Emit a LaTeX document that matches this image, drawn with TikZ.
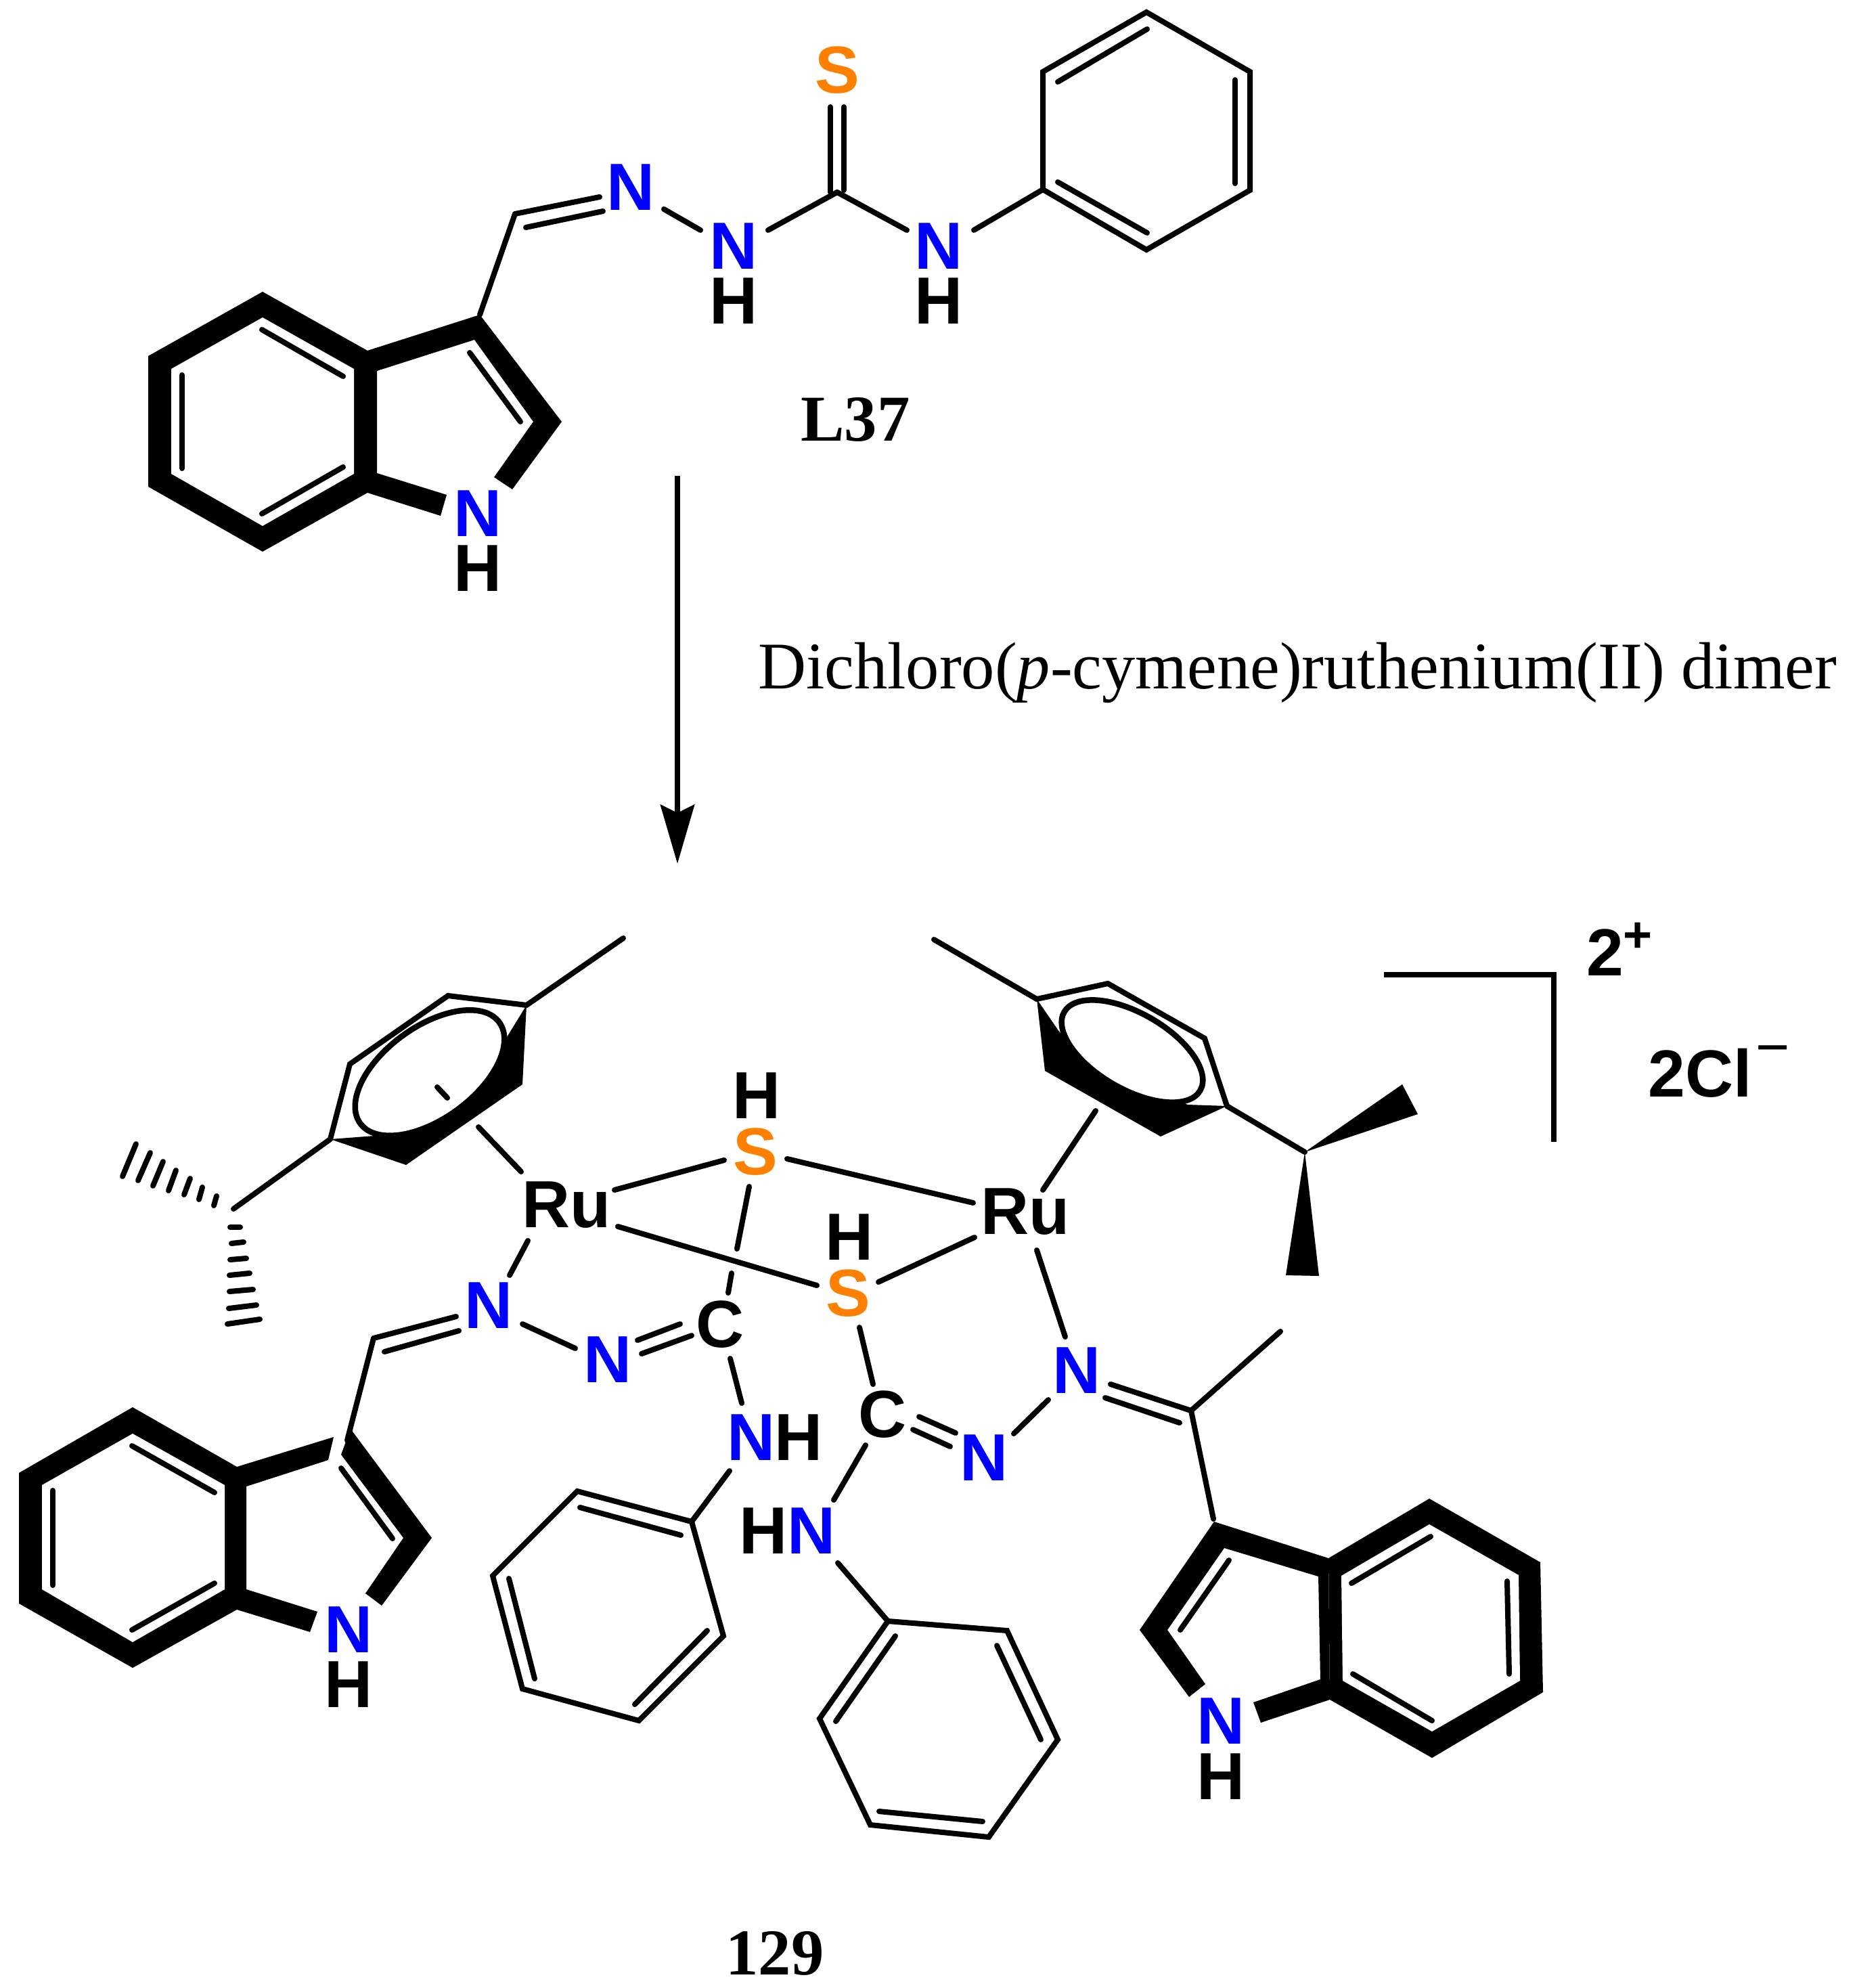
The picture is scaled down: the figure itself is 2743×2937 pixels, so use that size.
\documentclass[tikz,border=0pt]{standalone}
\usepackage{fontspec}
\setmainfont{Liberation Serif}
\setsansfont{Liberation Sans}
\usetikzlibrary{arrows.meta}
\definecolor{nblue}{RGB}{0,0,255}
\definecolor{sorange}{RGB}{255,128,0}
\tikzset{
  bond/.style={draw=black,line width=0.08cm,line cap=round,line join=miter},
  hashline/.style={draw=black,line width=0.08cm,line cap=round},
  atom/.style={inner sep=0pt,outer sep=0pt,font=\fontsize{28}{30}\selectfont\sffamily\bfseries},
  natom/.style={atom,text=nblue},
  satom/.style={atom,text=sorange},
  cmpd/.style={inner sep=0pt,anchor=base,font=\fontsize{27.5}{30}\selectfont\rmfamily\bfseries},
  arene/.style={draw=black,fill=white,line width=0.085cm}
}
\begin{document}
\begin{tikzpicture}[x=0.01cm,y=-0.01cm]
\useasboundingbox (0,0) rectangle (2743,2937);
% ---------- named vertices and bond ends ----------
\foreach \n/\px/\py in {
 tc3/709/465,tch/761/316,tna/886/291,tdb/777/336,tnb/891/312,tnn/981/309,tnh/1035/340,
 thc/1135/340,tcs/1237/284,thd/1340/340,the/1439/340,
 pa/1541/280,pb/1541/106,pc/1694/18,pd/1847/106,pe/1847/281,pf/1694/369,
 pa1/1563/121,pa2/1695/43,pb1/1825/118,pb2/1825/271,pc1/1563/269,pc2/1695/344,
 sa1/1227/158,sa2/1227/284,sb1/1247/158,sb2/1247/281,
 ti1/387/487,ti2/507/556,ti3/269/554,ti4/269/692,ti5/387/759,ti6/507/690,ti7/694/521,ti8/769/623,
 ara/1001/703,arb/1001/1276,
 lme/921/1386,lca/778/1485,lcb/662/1471,lcc/517/1572,lcd/488/1683,
 lst1/646/1606,lst2/661/1622,lrc1/707/1665,lrc2/770/1731,lipr/345/1786,
 r1s1/908/1758,r1s2/1070/1714,s1r2a/1163/1712,s1r2b/1438/1777,
 s1c1/1107/1753,s1c2/1089/1845,s1c3/1081/1881,s1c4/1076/1910,
 r1s3/913/1812,r1s4/1207/1899,s2r1/1298/1894,s2r2/1440/1828,
 r1n1/780/1833,r1n2/753/1884,
 lna/674/1945,lch/552/1977,lnb/678/1966,lchb/568/1997,lnn1/772/1956,lnn2/850/1992,
 lnc1/942/1980,lnc2/1005/1956,lnc3/948/2000,lnc4/1022/1973,lchi/513/2128,
 lch1/1079/2007,lch2/1096/2073,lnp/1078/2173,
 qa/1022/2248,qb/853/2203,qc/728/2328,qd/772/2495,qe/944/2542,qf/1069/2417,
 qa1/857/2227,qa2/1006/2268,qb1/752/2332,qb2/790/2480,qc1/938/2518,qc2/1045/2409,
 li1/195/2136,li2/317/2205,li3/78/2202,li4/78/2342,li5/195/2408,li6/317/2339,li7/504/2169,li8/580/2273,
 s2c1/1270/1961,s2c2/1290/2045,rch1/1279/2135,rch2/1232/2216,rnp/1238/2309,
 ua/1312/2395,ub/1488/2409,uc/1563/2570,ud/1461/2714,ue/1286/2696,uf/1211/2539,
 ua1/1323/2417,ua2/1235/2543,ub1/1473/2431,ub2/1538/2570,uc1/1452/2691,uc2/1299/2676,
 rcn1/1358/2093,rcn2/1412/2117,rcn3/1349/2112,rcn4/1404/2137,rnn1/1498/2118,rnn2/1549/2068,
 r2n1/1532/1847,r2n2/1574/1975,rnc1/1641/2045,rcc/1760/2084,rnc2/1633/2065,rnc3/1743/2102,
 rme/1892/1967,rci/1793/2244,
 ri1/1816/2305,ri2/1744/2408,ri3/1997/2339,ri4/2114/2270,ri5/2227/2336,ri6/2230/2473,ri7/1999/2473,ri8/2116/2542,
 rmt/1380/1388,rca/1532/1476,rcb/1637/1453,rcc2/1780/1534,rcd/1813/1634,
 rrc1/1619/1641,rrc2/1541/1758,ripr/1928/1702,
 bk1/2045/1440,bk2/2296/1440,bk3/2296/1687}
 \coordinate (\n) at (\px,\py);
% ---------- atom labels ----------
\node[natom] (N1) at (932,277) {N};
\node[natom] (N2) at (1084,364) {N};
\node[atom]  (H2) at (1084,445) {H};
\node[natom] (N3) at (1387,364) {N};
\node[atom]  (H3) at (1387,445) {H};
\node[satom] (S0) at (1237,104) {S};
\node[natom] (N4) at (706,759) {N};
\node[atom]  (H4) at (706,840) {H};
\node[cmpd]  (L37) at (1264,652) {L37};
\node[inner sep=0pt,anchor=base,font=\fontsize{28}{30}\selectfont\rmfamily] (reag) at (1917,1017) {Dichloro(\textit{p}-cymene)ruthenium(II) dimer};
\node[atom] (Ru1) at (837,1780) {Ru};
\node[atom] (Ru2) at (1515,1790) {Ru};
\node[satom] (S1) at (1116,1702) {S};
\node[atom]  (H5) at (1118,1619) {H};
\node[satom] (S2) at (1253,1911) {S};
\node[atom]  (H6) at (1255,1828) {H};
\node[natom] (N5) at (722,1929) {N};
\node[natom] (N6) at (898,2009) {N};
\node[atom]  (C1) at (1064,1957) {C};
\node[natom] (N7) at (1110,2124) {N};
\node[atom]  (H7) at (1180,2124) {H};
\node[natom] (N8) at (515,2408) {N};
\node[atom]  (H8) at (515,2489) {H};
\node[atom]  (C2) at (1304,2090) {C};
\node[atom]  (H9) at (1128,2262) {H};
\node[natom] (N9) at (1199,2262) {N};
\node[natom] (N10) at (1454,2154) {N};
\node[natom] (N11) at (1591,2025) {N};
\node[natom] (N12) at (1804,2543) {N};
\node[atom]  (H10) at (1804,2625) {H};
\node[atom,anchor=base] (two) at (2372,1441) {2};
\node[atom,anchor=base,font=\fontsize{21}{24}\selectfont\sffamily\bfseries] (plus) at (2420,1406) {+};
\node[atom,anchor=base] (cl) at (2512,1620) {2Cl};
\node[atom,anchor=base,font=\fontsize{24.5}{26}\selectfont\sffamily] (minus) at (2620,1576) {−};
\node[cmpd] (n129) at (1145,2917) {129};
% ---------- top indole ----------
\fill[black] (388,431)--(219,526)--(219,719)--(388,815)--(543,728)--(543,518)--cycle;
\fill[white] (388,469)--(253,545)--(253,700)--(388,777)--(523,700)--(523,545)--cycle;
\fill[black] (543,518)--(709,465)--(830,623)--(757,723)--(730,705)--(788,623)--(701,502)--(557,548)--(557,699)--(660,731)--(651,762)--(543,728)--cycle;
% ---------- left indole ----------
\fill[black] (196,2079)--(28,2176)--(28,2369)--(196,2464)--(350,2378)--(350,2167)--cycle;
\fill[white] (196,2118)--(62,2194)--(62,2348)--(196,2426)--(332,2348)--(332,2194)--cycle;
\fill[black] (350,2167)--(493,2123)--(485,2157)--(364,2196)--(364,2348)--(469,2381)--(458,2411)--(350,2378)--cycle;
\fill[black] (518,2111)--(638,2272)--(564,2372)--(540,2354)--(596,2272)--(504,2149)--cycle;
% ---------- right indole ----------
\fill[black] (1963,2302)--(2112,2214)--(2276,2308)--(2280,2500)--(2116,2597)--(1965,2511)--cycle;
\fill[white] (2112,2252)--(2244,2327)--(2246,2483)--(2116,2558)--(1984,2483)--(1982,2328)--cycle;
\fill[black] (1963,2302)--(1794,2248)--(1684,2408)--(1757,2507)--(1781,2488)--(1725,2408)--(1809,2287)--(1948,2329)--(1951,2481)--(1852,2515)--(1863,2545)--(1965,2511)--cycle;
% ---------- left arene ----------
\fill[black] (778,1485)--(772,1602)--(600,1721)--(488,1683)--(606,1674)--(722,1601)--(738,1550)--cycle;
\draw[bond] (lca)--(lcb)--(lcc)--(lcd);
\draw[arene] (635,1585) ellipse[x radius=127,y radius=68,rotate=36];
% ---------- right arene ----------
\fill[black] (1532,1476)--(1544,1582)--(1715,1679)--(1813,1634)--(1755,1632)--(1620,1580)--(1565,1524)--cycle;
\draw[bond] (rca)--(rcb)--(rcc2)--(rcd);
\draw[arene] (1673,1553) ellipse[x radius=116,y radius=56,rotate=-30];
% ---------- wedges ----------
\fill[black] (ripr)--(2072,1602)--(2095,1646)--cycle;
\fill[black] (ripr)--(1900,1884)--(1949,1885)--cycle;
% ---------- hashed bonds ----------
\foreach \ax/\ay/\bx/\by in {
 320/1767/316/1781,299/1754/294/1772,281/1741/272/1765,260/1729/249/1759,241/1716/226/1752,222/1703/204/1744,201/1690/181/1738,
 340/1813/355/1813,342/1837/360/1835,340/1861/364/1859,339/1884/369/1881,339/1908/374/1905,338/1933/379/1928,336/1956/384/1949}
 \draw[hashline] (\ax,\ay)--(\bx,\by);
% ---------- rings ----------
\draw[bond] (pa)--(pb)--(pc)--(pd)--(pe)--(pf)--cycle;
\draw[bond] (qa)--(qb)--(qc)--(qd)--(qe)--(qf)--cycle;
\draw[bond] (ua)--(ub)--(uc)--(ud)--(ue)--(uf)--cycle;
% ---------- bonds ----------
\foreach \a/\b in {
 tc3/tch,tch/tna,tdb/tnb,tnn/tnh,thc/tcs,tcs/thd,the/pa,
 pa1/pa2,pb1/pb2,pc1/pc2,sa1/sa2,sb1/sb2,
 ti1/ti2,ti3/ti4,ti5/ti6,ti7/ti8,
 lme/lca,lst1/lst2,lrc1/lrc2,lcd/lipr,
 r1s1/r1s2,s1r2a/s1r2b,s1c1/s1c2,s1c3/s1c4,r1s3/r1s4,s2r1/s2r2,r1n1/r1n2,
 lna/lch,lnb/lchb,lnn1/lnn2,lnc1/lnc2,lnc3/lnc4,lch/lchi,lch1/lch2,lnp/qa,
 qa1/qa2,qb1/qb2,qc1/qc2,
 li1/li2,li3/li4,li5/li6,li7/li8,
 s2c1/s2c2,rch1/rch2,rnp/ua,ua1/ua2,ub1/ub2,uc1/uc2,
 rcn1/rcn2,rcn3/rcn4,rnn1/rnn2,r2n1/r2n2,rnc1/rcc,rnc2/rnc3,rcc/rme,rcc/rci,
 ri1/ri2,ri3/ri4,ri5/ri6,ri7/ri8,
 rmt/rca,rrc1/rrc2,rcd/ripr}
 \draw[bond] (\a)--(\b);
\draw[bond,line cap=butt] (bk1)--(bk2)--(bk3);
\draw[bond,line cap=butt,-{Stealth[length=0.87cm,width=0.5cm,inset=0.12cm]}] (ara)--(arb);
\end{tikzpicture}
\end{document}
